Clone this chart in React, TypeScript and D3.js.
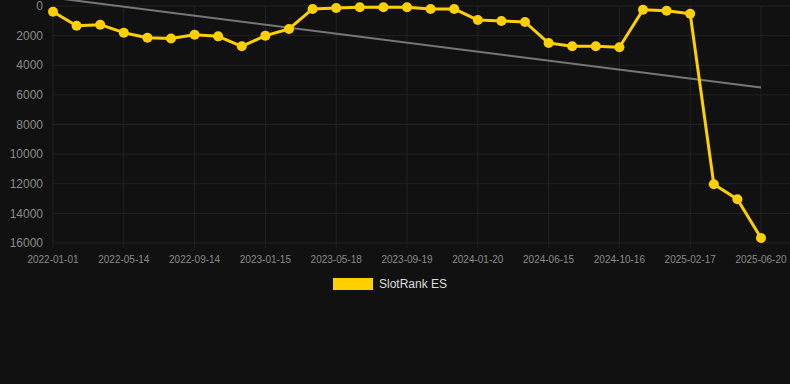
import React from "react";
import * as d3 from "d3";

const dates = [
  "2022-01-01", "2022-02-14", "2022-03-29", "2022-05-14", "2022-06-24", "2022-08-04",
  "2022-09-14", "2022-10-25", "2022-12-05", "2023-01-15", "2023-02-25", "2023-04-07",
  "2023-05-18", "2023-06-28", "2023-08-09", "2023-09-19", "2023-10-30", "2023-12-10",
  "2024-01-20", "2024-03-15", "2024-05-01", "2024-06-15", "2024-07-26", "2024-09-05",
  "2024-10-16", "2024-11-26", "2025-01-07", "2025-02-17", "2025-03-30", "2025-05-10",
  "2025-06-20",
];
const rankValues = [
  390, 1330, 1260, 1800, 2140, 2200, 1940, 2050, 2720, 2000, 1550, 200, 140, 80, 80, 80,
  200, 200, 950, 1010, 1080, 2500, 2720, 2720, 2790, 250, 320, 520, 12030, 13050, 15660,
];
const trendValues = [-560, 5510];
const yTicks = [0, 2000, 4000, 6000, 8000, 10000, 12000, 14000, 16000];
const seriesName = "SlotRank ES";

const W = 790;
const H = 384;
const left = 53;
const right = 761;
const plotRight = 790;
const top = 6;
const bottom = 243;
const FONT = "'Liberation Sans', Arial, Helvetica, sans-serif";

export default function App() {
  const x = d3.scalePoint<string>().domain(dates).range([left, right]);
  const y = d3.scaleLinear().domain([0, 16000]).range([top, bottom]);
  const line = d3
    .line<number>()
    .x((_, i) => x(dates[i]) as number)
    .y((d) => y(d));
  const tickDates = dates.filter((_, i) => i % 3 === 0);
  const trendLine = d3
    .line<number>()
    .x((_, i) => (i === 0 ? (x(dates[0]) as number) : (x(dates[dates.length - 1]) as number)))
    .y((d) => y(d));

  return (
    <div style={{ position: "fixed", left: 0, top: 0 }}>
      <svg width={W} height={H} style={{ display: "block", background: "#111111" }}>
        <rect x={0} y={0} width={W} height={H} fill="#111111" />
        {yTicks.map((t) => (
          <line key={"gy" + t} x1={left} x2={plotRight} y1={y(t)} y2={y(t)} stroke="#222222" strokeWidth={1} />
        ))}
        {tickDates.map((d) => (
          <line key={"gx" + d} x1={x(d)} x2={x(d)} y1={top} y2={bottom} stroke="#222222" strokeWidth={1} />
        ))}
        {tickDates.map((d) => (
          <line key={"tx" + d} x1={x(d)} x2={x(d)} y1={bottom} y2={bottom + 5} stroke="#222222" strokeWidth={1} />
        ))}
        {yTicks.map((t) => (
          <text
            key={"ly" + t}
            x={43}
            y={y(t)}
            dy="0.35em"
            textAnchor="end"
            fill="#8a8a8a"
            fontSize={12}
            fontFamily={FONT}
          >
            {t}
          </text>
        ))}
        {tickDates.map((d) => (
          <text
            key={"lx" + d}
            x={x(d)}
            y={259}
            dy="0.35em"
            textAnchor="middle"
            fill="#8a8a8a"
            fontSize={10}
            fontFamily={FONT}
          >
            {d}
          </text>
        ))}
        <path d={trendLine(trendValues) || ""} fill="none" stroke="#777777" strokeWidth={2} />
        <path d={line(rankValues) || ""} fill="none" stroke="#FFD000" strokeWidth={3} strokeLinejoin="round" />
        {rankValues.map((v, i) => (
          <circle key={"p" + i} cx={x(dates[i])} cy={y(v)} r={5} fill="#FFD000" />
        ))}
        <rect x={333} y={278} width={40} height={12} fill="#FFD000" />
        <text x={379} y={284} dy="0.35em" fill="#dddddd" fontSize={12} fontFamily={FONT}>
          {seriesName}
        </text>
      </svg>
    </div>
  );
}
